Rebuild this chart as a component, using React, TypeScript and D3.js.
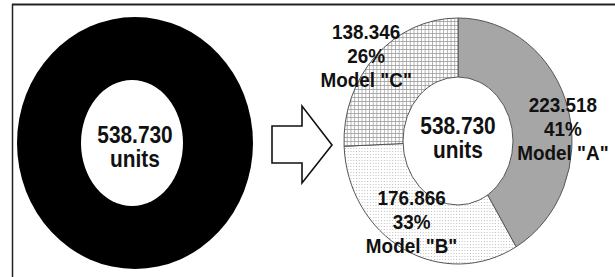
import React from "react";
import * as d3 from "d3";

const models = ["A", "B", "C"];
const units = [223518, 176866, 138346];
const totalLabel = "units";

const W = 615;
const H = 277;

const fills = ["#a6a6a6", "url(#dots)", "url(#grid)"];
// label nudges from the arc centroid, per slice
const nudges = [
  [17, 21],
  [-3, 1],
  [-26, -10],
];

const loc = d3.formatLocale({ decimal: ",", thousands: ".", grouping: [3], currency: ["", ""] });
const fmtNum = loc.format(",d");
const fmtPct = d3.format(".0%");

const font = "'Liberation Sans', Arial, sans-serif";

const Label = ({ x, y, lines, size, sx }: { x: number; y: number; lines: string[]; size: number; sx: number }) => (
  <g transform={`translate(${x},${y}) scale(${sx},1)`}>
    {lines.map((t, i) => (
      <text
        key={i}
        x={0}
        y={(i - (lines.length - 1) / 2) * 24 + (lines.length === 2 ? 12 : 0)}
        textAnchor="middle"
        fontFamily={font}
        fontWeight="bold"
        fontSize={size}
        fill="#111"
      >
        {t}
      </text>
    ))}
  </g>
);

export default function App() {
  const total = d3.sum(units);

  // left donut: whole total in black
  const left = { cx: 135, cy: 143, rx: 118, ry: 126, irx: 51, iry: 63 };
  const whole = d3.pie<number>().sort(null)([total])[0];
  const unitArc = d3.arc<d3.PieArcDatum<number>>().innerRadius(0).outerRadius(1);

  // right donut: split by model
  const right = { cx: 458, cy: 141, rx: 114, ry: 123, irx: 55, iry: 64 };
  const slices = d3.pie<number>().sort(null)(units);
  const sliceArc = d3.arc<d3.PieArcDatum<number>>().innerRadius(0).outerRadius(right.ry);
  const labelArc = d3.arc<d3.PieArcDatum<number>>().innerRadius(0.8).outerRadius(0.8);
  const kx = right.rx / right.ry;

  // arrow outline
  const arrow = d3.line()([
    [272, 126],
    [302, 126],
    [302, 106],
    [332, 145],
    [302, 183],
    [302, 163],
    [272, 163],
  ]) + "Z";

  return (
    <svg width={W} height={H} style={{ position: "absolute", left: 0, top: 0, background: "#fff" }}>
      <defs>
        <pattern id="dots" width={3} height={3} patternUnits="userSpaceOnUse">
          <rect width={3} height={3} fill="#fff" />
          <rect x={1} y={1} width={1} height={1} fill="#bdbdbd" />
        </pattern>
        <pattern id="grid" width={4} height={4} patternUnits="userSpaceOnUse">
          <rect width={4} height={4} fill="#fff" />
          <path d="M0,0.5H4M0.5,0V4" stroke="#9a9a9a" strokeWidth={0.8} />
        </pattern>
      </defs>

      {/* frame */}
      <line x1={12} x2={W} y1={4.5} y2={4.5} stroke="#222" strokeWidth={2} />
      <line x1={12.5} x2={12.5} y1={4} y2={H} stroke="#222" strokeWidth={1.5} />

      {/* left donut */}
      <g transform={`translate(${left.cx},${left.cy}) scale(${left.rx},${left.ry})`}>
        <path d={unitArc(whole) || ""} fill="#000" />
      </g>
      <ellipse cx={left.cx - 3} cy={left.cy} rx={left.irx} ry={left.iry} fill="#fff" />
      <Label x={left.cx} y={left.cy} lines={[fmtNum(total), totalLabel]} size={24} sx={0.87} />

      {/* arrow */}
      <path d={arrow} fill="#fff" stroke="#111" strokeWidth={1.6} strokeLinejoin="miter" />

      {/* right donut */}
      <g transform={`translate(${right.cx},${right.cy}) scale(${kx},1)`}>
        {slices.map((s, i) => (
          <path
            key={i}
            d={sliceArc(s) || ""}
            fill={fills[i]}
            stroke="#555"
            strokeWidth={1}
            vectorEffect="non-scaling-stroke"
          />
        ))}
      </g>
      <ellipse cx={right.cx} cy={right.cy} rx={right.irx} ry={right.iry} fill="#fff" stroke="#555" strokeWidth={1} />
      <Label x={right.cx} y={right.cy - 7} lines={[fmtNum(total), totalLabel]} size={24} sx={0.87} />

      {slices.map((s, i) => {
        const [ux, uy] = labelArc.centroid(s);
        const x = right.cx + ux * right.rx + nudges[i][0];
        const y = right.cy + uy * right.ry + nudges[i][1];
        return (
          <Label
            key={i}
            x={x}
            y={y}
            lines={[fmtNum(units[i]), fmtPct(units[i] / total), `Model "${models[i]}"`]}
            size={21}
            sx={0.9}
          />
        );
      })}
    </svg>
  );
}
